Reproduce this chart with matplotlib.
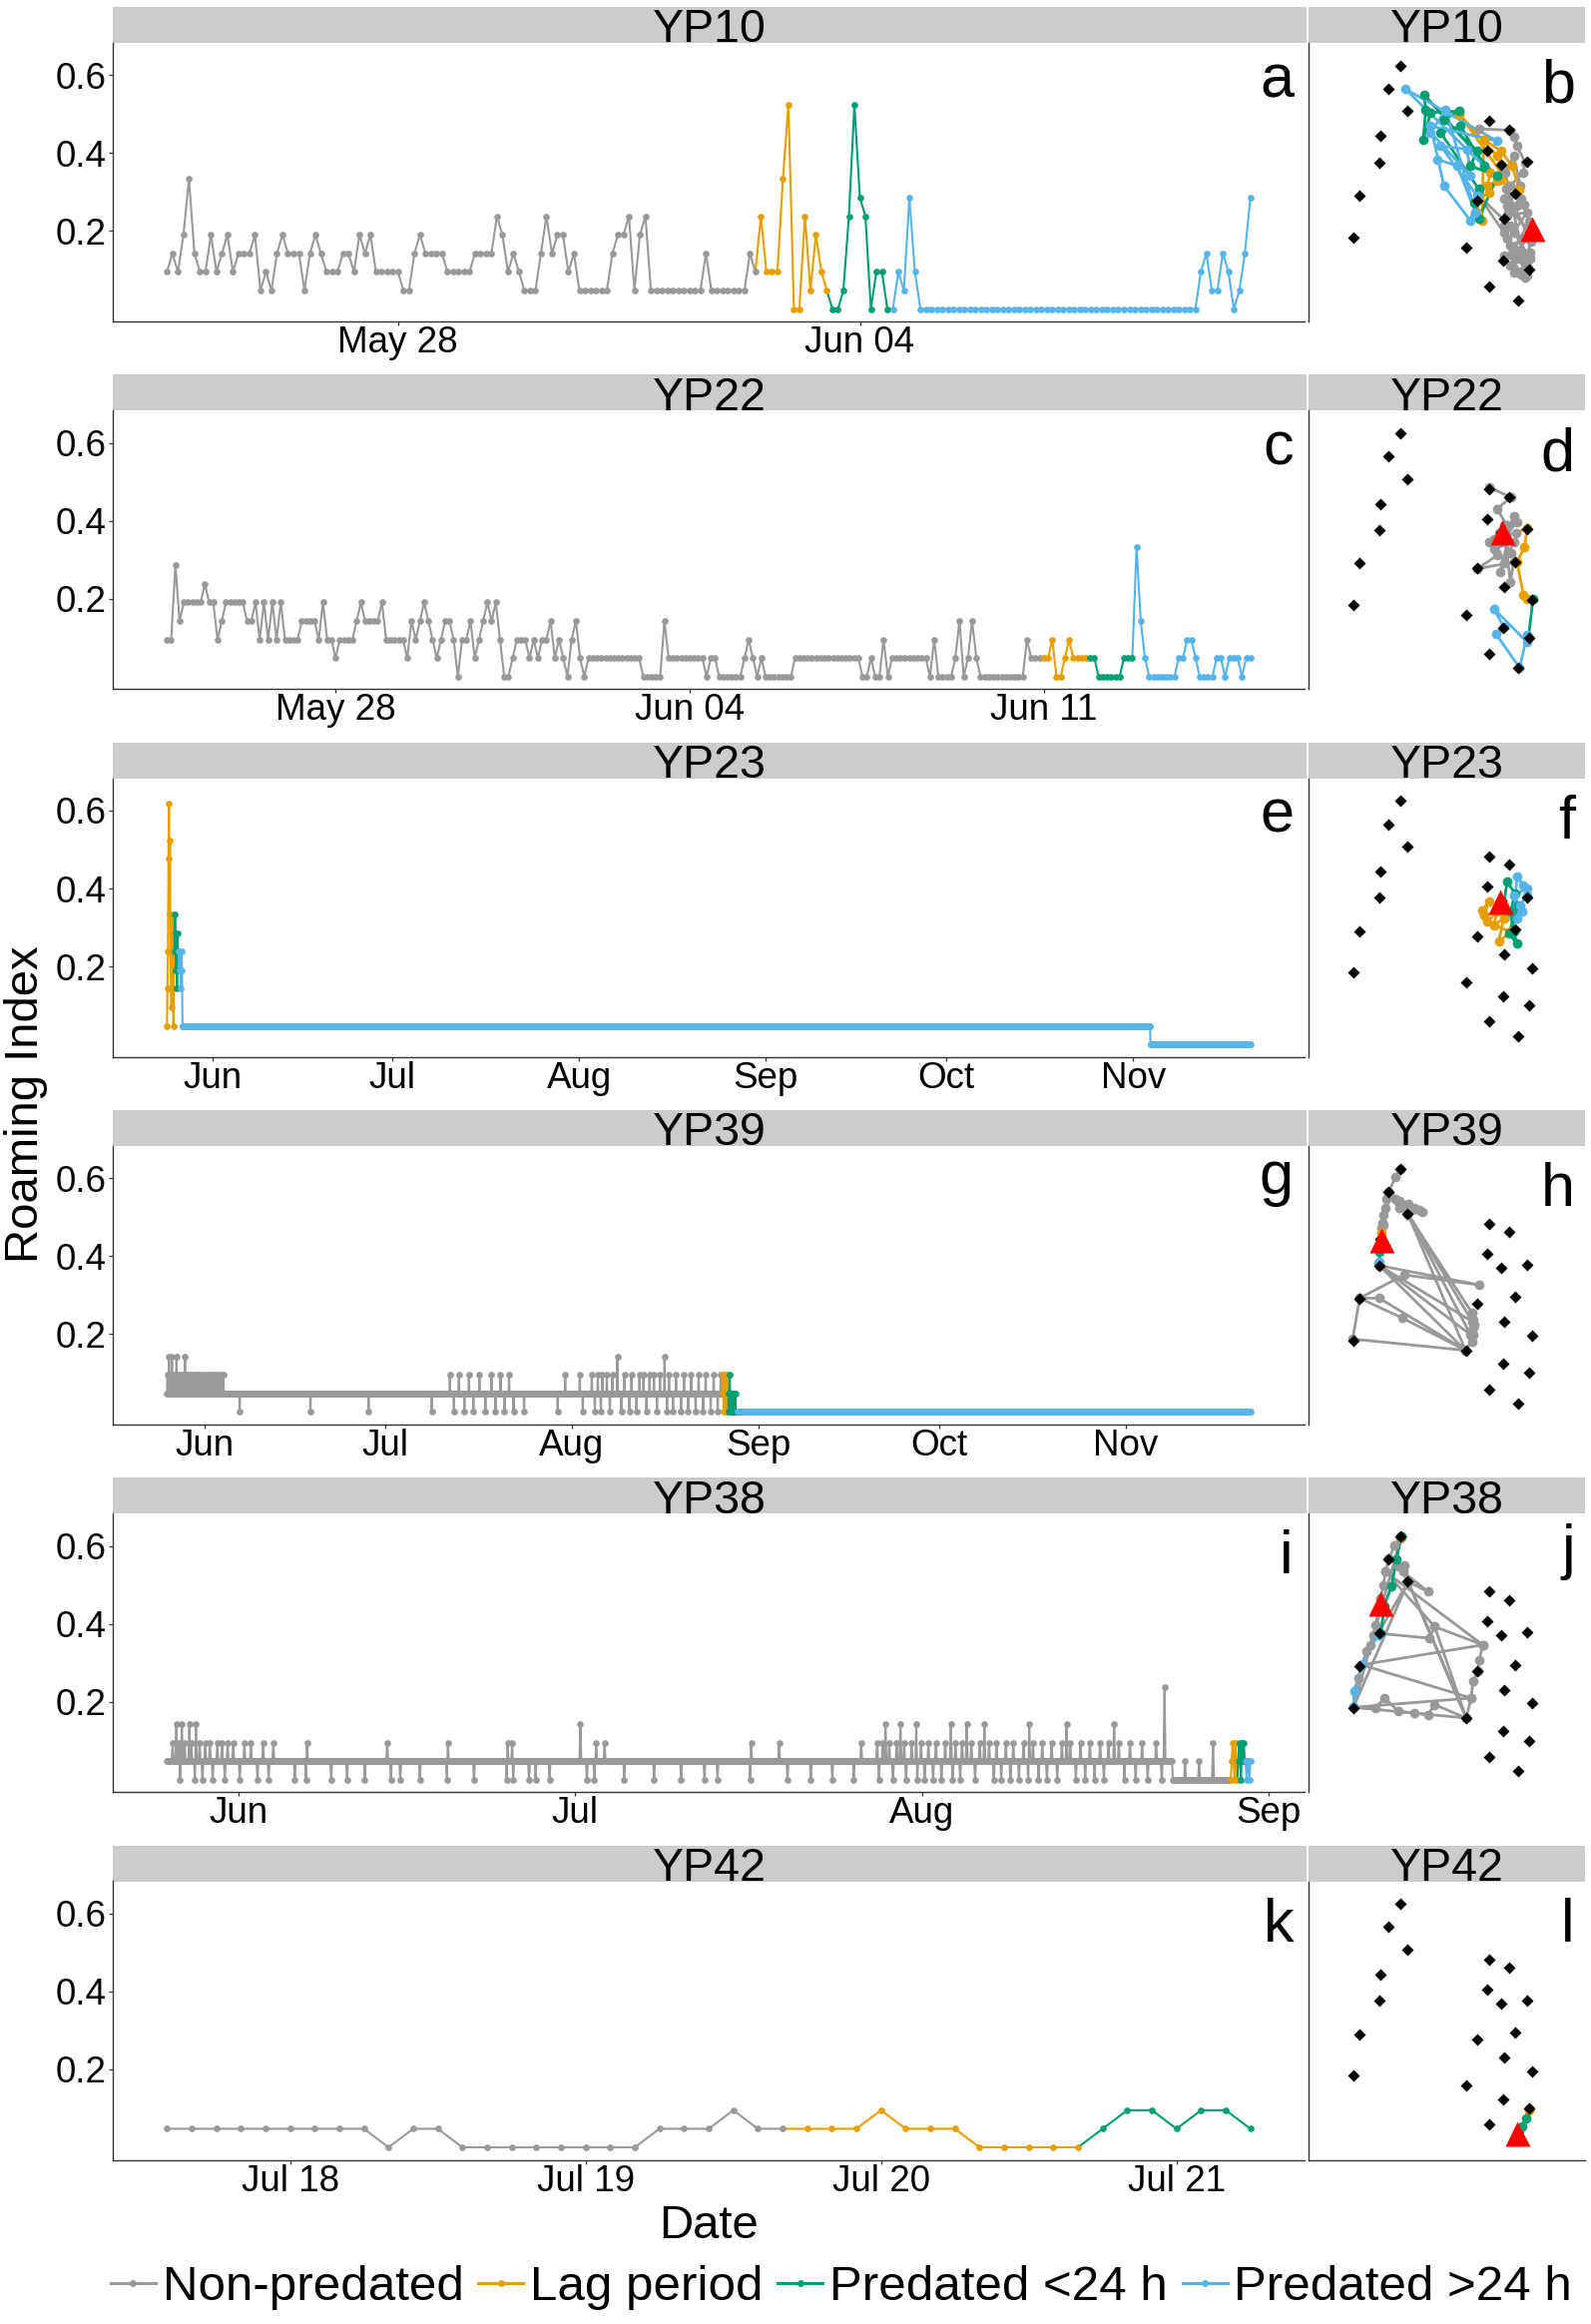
import numpy as np
import matplotlib
matplotlib.use("Agg")
import matplotlib.pyplot as plt
import matplotlib.dates as mdates
from matplotlib.lines import Line2D
from matplotlib.textpath import TextPath
from matplotlib.font_manager import FontProperties

plt.rcParams["font.family"] = ["Liberation Sans", "DejaVu Sans"]

# ---------------------------------------------------------------- data
N_RECEIVERS = 21          # roaming index = receivers visited / 21
STEP_HOURS = 2            # sampling interval of the roaming index

categories = ["Non-predated", "Lag period", "Predated <24 h", "Predated >24 h"]
cat_colors = ["#999999", "#E69F00", "#009E73", "#56B4E9"]
fish_ids = ["YP10", "YP22", "YP23", "YP39", "YP38", "YP42"]
letters_ts = ["a", "c", "e", "g", "i", "k"]
letters_map = ["b", "d", "f", "h", "j", "l"]

# --- YP10 (receiver counts per 2 h step; int = one step, (k, n) = n steps)
yp10_start = "2017-05-24T12:00"
yp10_non = [2, 3, 2, 4, 7, 3, 2, 2, 4, 2, 3, 4, 2, 3, 3, 3, 4, 1, 2, 1,
            3, 4, 3, 3, 3, 1, 3, 4, 3, 2, 2, 2, 3, 3, 2, 4, 3, 4, 2, 2,
            2, 2, 2, 1, 1, 3, 4, 3, 3, 3, 3, 2, 2, 2, 2, 2, 3, 3, 3, 3,
            5, 4, 2, 3, 2, 1, 1, 1, 3, 5, 3, 4, 4, 2, 3, 1, 1, 1, 1, 1,
            1, 3, 4, 4, 5, 1, 4, 5, 1, 1, 1, 1, 1, 1, 1, 1, 1, 1, 3, 1,
            1, 1, 1, 1, 1, 1, 3, 2]
yp10_lag = [5, 2, 2, 2, 7, 11, 0, 0, 5, 1, 4, 2, 1]
yp10_lt24 = [0, 0, 1, 5, 11, 6, 5, 0, 2, 2, 0]
yp10_gt24 = [0, 2, 1, 6, 2, (0, 51), 2, 3, 1, 1, 3, 2, 0, 1, 3, 6]

# --- YP22
yp22_start = "2017-05-24T16:00"
yp22_non = [(2, 2), 6, 3, (4, 5), 5, (4, 2), 2, 3, (4, 5), (3, 2), 4, 2, 4, 2, 4, 2, 4,
            (2, 4), (3, 4), 2, 4, (2, 2), 1, (2, 4), 3, 4, (3, 4), 4, (2, 5), 1, 3, 2, 3,
            4, 3, 2, 1, 2, (3, 2), 2, 0, (2, 2), 3, 1, 2, 3, 4, 3, 4, 2, (0, 2), 1,
            (2, 3), 1, 2, 1, (2, 2), 3, 1, 2, 1, 0, 2, 3, 1, 0, (1, 13), (0, 5), 3,
            (1, 9), 0, (1, 2), (0, 6), 1, 2, 1, 0, 1, (0, 7), (1, 16), (0, 2), 1,
            (0, 2), 2, 0, (1, 9), 0, 2, (0, 4), 1, 3, 0, 1, 3, 1, (0, 11), 2, (1, 3)]
yp22_lag = [1, 1, 2, 0, 0, 1, 2, 1, 1, 1, 1]
yp22_lt24 = [1, 1, 0, 0, 0, 0, 0, 0, 1, 1, 1]
yp22_gt24 = [7, 3, 1, (0, 7), 1, 1, 2, 2, 1, (0, 4), 1, 1, 0, 1, 1, 1, 0, 1, 1]

# --- YP23
yp23_start = "2017-05-24T12:00"
yp23_non = []
yp23_lag = [1, 3, 5, 10, 13, 7, 11, 5, 3, 2, 5, 7, 3, 1, 5]
yp23_lt24 = [5, 7, 6, 4, 5, 3, 6, 5, 4]
yp23_gt24 = [5, 4, 5, 3, 4, 5, 4, (1, 1930), (0, 200)]

# --- YP39 (baseline runs plus short excursions: day since start, count)
yp39_start = "2017-05-25T18:00"
yp39_non_base = [(1, 1107)]
yp39_ev_day = [0.1, 0.3, 0.5, 0.8, 1.1, 1.4, 1.6, 2.0, 2.3, 2.7, 3.0, 3.3, 3.7, 4.0,
               4.4, 4.8, 5.1, 5.5, 5.9, 6.2, 6.6, 7.0, 7.4, 7.7, 8.1, 8.5, 8.9, 9.3,
               12.05, 23.86, 33.46, 44.03,
               47.0, 47.7, 48.5, 49.4, 50.2, 50.9, 51.9, 52.9, 53.9, 54.6, 55.4, 56.1,
               56.8, 57.6, 59.3, 64.9, 66.2, 68.6, 69.1,
               70.6, 71.1, 71.6, 72.1, 72.3, 73.1, 73.6, 74.0, 74.8, 75.5, 76.0, 76.8,
               77.2, 78.0, 78.5, 79.2, 79.7, 80.2, 80.9, 81.4, 81.9, 82.7, 83.1, 83.4,
               84.1, 84.6, 85.4, 85.9, 86.6, 87.1, 87.8, 88.3, 89.1, 89.5, 90.3, 90.8,
               91.5, 92.0]
yp39_ev_k = [2, 3, 2, 3, 2, 2, 3, 2, 2, 2, 3, 2, 2, 2,
             2, 2, 2, 2, 2, 2, 2, 2, 2, 2, 2, 2, 2, 2,
             0, 0, 0, 0,
             2, 0, 2, 0, 2, 0, 2, 0, 2, 0, 2, 0,
             2, 0, 0, 0, 2, 2, 0,
             2, 0, 2, 0, 2, 2, 0, 2, 3, 0, 2, 0,
             2, 0, 2, 2, 0, 2, 2, 0, 2, 3, 0, 2,
             0, 2, 0, 2, 0, 2, 0, 2, 0, 2, 0, 2,
             0, 2]
yp39_lag = [1, 2, 1, 0, 1, 2, 0, 1, 1, 0, 2, 1]
yp39_lt24 = [1, 0, 1, 2, 1, 0, 0, 1, 0, 0, 1, 0, 0, 0, 1, 0, 0, 0]
yp39_gt24 = [(0, 1024)]

# --- YP38
yp38_start = "2017-05-25T14:00"
yp38_non_base = [(1, 1078), (0, 62)]
yp38_ev_day = [0.8, 1.3, 2.0, 2.6,
               0.5, 1.1, 1.6, 2.2, 2.9, 3.4, 3.8, 4.5, 4.9, 5.4, 5.9, 6.9, 7.5, 8.6, 9.5,
               1.2, 2.5, 3.2, 4.1, 5.2, 6.5, 8.1, 9.1,
               11.4, 12.4, 14.7, 16.1, 17.7, 20.0, 20.8, 22.6, 25.0, 27.4, 30.3, 30.9,
               32.3, 32.9, 34.2, 37.5, 38.2, 40.8, 43.5, 45.9, 48.0, 49.2, 52.1, 55.4,
               57.5, 59.4, 61.3,
               12.5, 19.7, 25.1, 30.4, 30.8, 38.3, 39.1, 52.2, 54.7, 62.0, 36.9,
               63.4, 63.9, 64.5, 65.2, 65.8, 66.5, 67.3, 68.0, 68.7, 69.5, 70.4, 71.0,
               71.8, 72.6, 73.4, 74.1, 74.9, 75.6, 76.5, 77.3, 78.2, 79.0, 79.9, 80.7,
               81.6, 82.4, 83.3, 84.1, 85.0, 86.0, 87.1, 88.3,
               64.2, 65.5, 66.9, 70.0, 71.4, 73.0, 77.0, 80.3, 84.6,
               63.6, 64.8, 66.0, 67.0, 67.7, 68.4, 69.2, 70.2, 70.8, 72.2, 73.8, 74.5,
               75.3, 76.1, 76.9, 77.8, 78.6, 79.5, 81.2, 82.0, 82.8, 83.7, 85.5, 86.5,
               87.6, 88.8,
               89.1, 90.9, 92.2, 93.4]
yp38_ev_k = ([3] * 4 + [2] * 15 + [0] * 8 + [0] * 27 + [2] * 10 + [3]
             + [2] * 32 + [3] * 9 + [0] * 26 + [5, 1, 1, 2])
yp38_lag = [0, 1, 2, 1, 0, 2, 1, 0]
yp38_lt24 = [1, 2, 1, 0, 2, 1, 2, 1]
yp38_gt24 = [1, 0, 1, 1, 0, 1]

# --- YP42
yp42_start = "2017-07-17T14:00"
yp42_non = [1, 1, 1, 1, 1, 1, 1, 1, 1, 0, 1, 1, 0, 0, 0, 0, 0, 0, 0, 0, 1, 1, 1, 2, 1, 1]
yp42_lag = [1, 1, 1, 2, 1, 1, 1, 0, 0, 0, 0, 0]
yp42_lt24 = [1, 2, 2, 1, 2, 2, 1]
yp42_gt24 = []

# x-axis ticks per fish
yp10_ticks = ["2017-05-28", "2017-06-04"]
yp22_ticks = ["2017-05-28", "2017-06-04", "2017-06-11"]
yp23_ticks = ["2017-06-01", "2017-07-01", "2017-08-01", "2017-09-01", "2017-10-01", "2017-11-01"]
yp39_ticks = yp23_ticks
yp38_ticks = ["2017-06-01", "2017-07-01", "2017-08-01", "2017-09-01"]
yp42_ticks = ["2017-07-18", "2017-07-19", "2017-07-20", "2017-07-21"]
tick_formats = ["%b %d", "%b %d", "%b", "%b", "%b", "%b %d"]
y_ticks = [0.2, 0.4, 0.6]
y_tick_labels = ["0.2", "0.4", "0.6"]

# --- receiver array (map units) and tracks
rec_x = [278, 241, 299, 216, 213, 154, 135, 545, 604, 538, 580, 658, 623, 508, 590, 674, 474, 585, 665, 544, 633]
rec_y = [770, 700, 633, 558, 478, 378, 253, 603, 578, 513, 471, 480, 383, 363, 308, 267, 223, 183, 155, 106, 63]

yp10_tri = (673, 278)
yp10_map_non = [(513, 580), (608, 575), (618, 556), (628, 528), (653, 478), (646, 448), (608, 408),
                (588, 368), (628, 348), (598, 318), (658, 328), (618, 268), (588, 288), (648, 248),
                (608, 228), (668, 208), (628, 188), (588, 198), (658, 168), (618, 148), (653, 133),
                (608, 168), (668, 268), (598, 348), (638, 408), (618, 498), (593, 448), (658, 138),
                (628, 208), (598, 248), (668, 188), (608, 288), (513, 378), (588, 268), (600, 330),
                (640, 370), (665, 300), (610, 200), (640, 140), (670, 240), (595, 400), (650, 350)]
yp10_map_lag = [(455, 623), (568, 498), (580, 473), (576, 428), (548, 448), (538, 408), (568, 423),
                (636, 396), (613, 468), (580, 513), (528, 548), (523, 303), (508, 328), (513, 368),
                (543, 388), (573, 428)]
yp10_map_lt24 = [(348, 683), (353, 638), (346, 548), (368, 628), (455, 633), (408, 608), (508, 513),
                 (488, 468), (568, 438), (513, 308), (498, 358), (513, 398), (398, 568), (458, 588),
                 (528, 468)]
yp10_map_gt24 = [(291, 700), (568, 543), (368, 588), (408, 408), (488, 303), (508, 378), (398, 528),
                 (478, 518), (488, 438), (368, 568), (413, 638), (503, 328), (448, 468), (388, 488)]

yp22_tri = (582, 472)
yp22_map_non = [(545, 607), (610, 577), (568, 542), (598, 492), (543, 442), (568, 402), (508, 362),
                (618, 382), (608, 322), (588, 492), (628, 502), (558, 422), (618, 442), (578, 352),
                (618, 522), (598, 452), (575, 470), (610, 410), (590, 380), (560, 450), (625, 470)]
yp22_map_lag = [(658, 484), (651, 427), (628, 382), (648, 282), (658, 272)]
yp22_map_lt24 = [(676, 270), (663, 157)]
yp22_map_gt24 = [(658, 142), (558, 242), (588, 187), (564, 167), (636, 64), (658, 162)]

yp23_tri = (576, 468)
yp23_map_non = []
yp23_map_lag = [(523, 441), (543, 466), (528, 426), (568, 436), (558, 396), (588, 416), (573, 346),
                (608, 376), (538, 406), (588, 456)]
yp23_map_lt24 = [(598, 526), (623, 491), (608, 436), (618, 376), (628, 341), (603, 371), (633, 456),
                 (618, 416)]
yp23_map_gt24 = [(628, 541), (648, 516), (658, 486), (638, 456), (628, 416), (643, 436), (618, 486),
                 (658, 506)]

yp39_tri = (219, 555)
yp39_map_non = [(278, 770), (263, 745), (241, 700), (236, 680), (231, 650), (226, 630), (223, 605),
                (221, 590), (241, 700), (263, 680), (275, 672), (293, 660), (300, 662), (320, 650),
                (333, 645), (343, 638), (299, 634), (473, 223), (493, 250), (495, 270), (497, 290),
                (498, 300), (496, 315), (493, 335), (299, 634), (488, 270), (213, 478), (513, 420),
                (288, 450), (154, 380), (213, 380), (473, 223), (133, 257), (154, 380), (283, 320),
                (473, 223), (213, 478), (493, 310), (299, 634), (273, 650), (243, 690), (226, 600)]
yp39_map_lag = [(221, 575)]
yp39_map_lt24 = [(219, 550), (214, 520), (213, 480)]
yp39_map_gt24 = [(212, 485), (214, 490)]

yp38_tri = (216, 568)
yp38_map_non = [(280, 771), (260, 743), (242, 703), (232, 663), (225, 623), (218, 583), (210, 543),
                (202, 503), (195, 473), (185, 443), (175, 423), (160, 383), (150, 343), (140, 303),
                (135, 255), (475, 223), (490, 283), (495, 333), (510, 363), (515, 398), (525, 443),
                (380, 498), (365, 463), (210, 478), (300, 633), (270, 678), (290, 683), (285, 663),
                (360, 603), (300, 633), (475, 223), (380, 263), (360, 233), (320, 238), (270, 243),
                (230, 283), (200, 253), (135, 255), (490, 283), (160, 383), (525, 443), (232, 663),
                (380, 498), (475, 223), (300, 633), (135, 255), (278, 765)]
yp38_map_lag = [(280, 771), (279, 768)]
yp38_map_lt24 = [(280, 771), (265, 700), (250, 620), (228, 560), (218, 478)]
yp38_map_gt24 = [(210, 473), (160, 383), (138, 303), (135, 255)]

yp42_tri = (629, 80)
yp42_map_non = [(631, 78), (632, 70)]
yp42_map_lag = [(664, 155), (666, 150)]
yp42_map_lt24 = [(655, 125), (645, 100), (635, 85)]
yp42_map_gt24 = []

# ---------------------------------------------------------------- helpers
def expand(runs):
    out = []
    for r in runs:
        if isinstance(r, tuple):
            out.extend([r[0]] * r[1])
        else:
            out.append(r)
    return out


def with_events(runs, ev_day, ev_k):
    v = expand(runs)
    for d, k in zip(ev_day, ev_k):
        v[int(round(d * 24 / STEP_HOURS))] = k
    return v


series = {
    "YP10": (yp10_start, [expand(yp10_non), expand(yp10_lag), expand(yp10_lt24), expand(yp10_gt24)]),
    "YP22": (yp22_start, [expand(yp22_non), expand(yp22_lag), expand(yp22_lt24), expand(yp22_gt24)]),
    "YP23": (yp23_start, [expand(yp23_non), expand(yp23_lag), expand(yp23_lt24), expand(yp23_gt24)]),
    "YP39": (yp39_start, [with_events(yp39_non_base, yp39_ev_day, yp39_ev_k), expand(yp39_lag),
                          expand(yp39_lt24), expand(yp39_gt24)]),
    "YP38": (yp38_start, [with_events(yp38_non_base, yp38_ev_day, yp38_ev_k), expand(yp38_lag),
                          expand(yp38_lt24), expand(yp38_gt24)]),
    "YP42": (yp42_start, [expand(yp42_non), expand(yp42_lag), expand(yp42_lt24), expand(yp42_gt24)]),
}
ticks = {"YP10": yp10_ticks, "YP22": yp22_ticks, "YP23": yp23_ticks,
         "YP39": yp39_ticks, "YP38": yp38_ticks, "YP42": yp42_ticks}
maps = {
    "YP10": (yp10_tri, [yp10_map_non, yp10_map_lag, yp10_map_lt24, yp10_map_gt24]),
    "YP22": (yp22_tri, [yp22_map_non, yp22_map_lag, yp22_map_lt24, yp22_map_gt24]),
    "YP23": (yp23_tri, [yp23_map_non, yp23_map_lag, yp23_map_lt24, yp23_map_gt24]),
    "YP39": (yp39_tri, [yp39_map_non, yp39_map_lag, yp39_map_lt24, yp39_map_gt24]),
    "YP38": (yp38_tri, [yp38_map_non, yp38_map_lag, yp38_map_lt24, yp38_map_gt24]),
    "YP42": (yp42_tri, [yp42_map_non, yp42_map_lag, yp42_map_lt24, yp42_map_gt24]),
}

# ---------------------------------------------------------------- layout
W, H, DPI = 1594, 2328, 100
ROW0, ROW_STEP, STRIP_H, AX_H = 7.0, 368.3, 36.0, 279.0
LX0, LX1 = 113, 1307
RX0, RX1 = 1311, 1588
SPINE_C = "#333333"

fig = plt.figure(figsize=(W / DPI, H / DPI), dpi=DPI)


def place_letter(letter, right_px, center_px, size):
    fp = FontProperties(family="Liberation Sans", size=size)
    bb = TextPath((0, 0), letter, prop=fp).get_extents()
    mid = (bb.y0 + bb.y1) / 2 * DPI / 72.0
    base = center_px + mid
    fig.text(right_px / W, 1 - base / H, letter, ha="right", va="baseline", fontsize=size)


def draw_ts(ax, start, cat_vals):
    vals, cats = [], []
    for ci, v in enumerate(cat_vals):
        vals += list(v)
        cats += [ci] * len(v)
    vals = np.array(vals, dtype=float) / N_RECEIVERS
    cats = np.array(cats)
    x = mdates.date2num(np.datetime64(start)) + np.arange(len(vals)) * STEP_HOURS / 24.0
    for ci in range(4):
        idx = np.where(cats == ci)[0]
        if len(idx) == 0:
            continue
        j0 = max(idx[0] - 1, 0)
        ax.plot(x[j0:idx[-1] + 1], vals[j0:idx[-1] + 1], color=cat_colors[ci], lw=1.5,
                solid_joinstyle="round", zorder=2)
    for ci in range(4):
        idx = np.where(cats == ci)[0]
        if len(idx) == 0:
            continue
        ax.plot(x[idx], vals[idx], ls="none", marker="o", ms=4.8, color=cat_colors[ci],
                mec="none", zorder=3)
    return x[0], x[-1]


def draw_map(ax, tri, paths):
    prev = None
    for ci, pts in enumerate(paths):
        if not pts:
            continue
        xs = [p[0] for p in pts]
        ys = [p[1] for p in pts]
        lx = ([prev[0]] if prev else []) + xs
        ly = ([prev[1]] if prev else []) + ys
        ax.plot(lx, ly, color=cat_colors[ci], lw=2.0, zorder=2)
        ax.plot(xs, ys, ls="none", marker="o", ms=7, color=cat_colors[ci], mec="none", zorder=3)
        prev = pts[-1]
    ax.plot(rec_x, rec_y, ls="none", marker="D", ms=6, color="black", mec="none", zorder=4)
    ax.plot([tri[0]], [tri[1]], ls="none", marker="^", ms=18, color="red", mec="none", zorder=5)


for r, fid in enumerate(fish_ids):
    strip_top = ROW0 + r * ROW_STEP
    ax_top = strip_top + STRIP_H
    ax_bot = ax_top + AX_H

    # strips
    for (x0, x1) in [(LX0, LX1 + 2), (RX0, RX1)]:
        sax = fig.add_axes([x0 / W, 1 - ax_top / H, (x1 - x0) / W, STRIP_H / H])
        sax.set_facecolor("#CCCCCC")
        sax.set_xticks([])
        sax.set_yticks([])
        for s in sax.spines.values():
            s.set_visible(False)
        fig.text((x0 + x1) / 2 / W, 1 - (ax_top - 0.5) / H, fid, ha="center", va="baseline",
                 fontsize=33.5)

    # time series
    ax = fig.add_axes([LX0 / W, 1 - ax_bot / H, (LX1 - LX0) / W, AX_H / H])
    start, cat_vals = series[fid]
    t0, t1 = draw_ts(ax, start, cat_vals)
    rng = t1 - t0
    ax.set_xlim(t0 - 0.05 * rng, t1 + 0.05 * rng)
    ax.set_ylim(-0.032, 0.683)
    ax.set_yticks(y_ticks)
    ax.set_yticklabels(y_tick_labels)
    ax.set_xticks(mdates.date2num(np.array(ticks[fid], dtype="datetime64[D]")))
    ax.xaxis.set_major_formatter(mdates.DateFormatter(tick_formats[r]))
    ax.tick_params(axis="both", labelsize=26.5, colors=SPINE_C, labelcolor="black",
                   length=2.9, width=0.9)
    ax.tick_params(axis="x", pad=0)
    ax.tick_params(axis="y", pad=2)
    for s in ["top", "right"]:
        ax.spines[s].set_visible(False)
    for s in ["left", "bottom"]:
        ax.spines[s].set_color(SPINE_C)
        ax.spines[s].set_linewidth(1.0)
    place_letter(letters_ts[r], LX1 - 11, ax_top + 38, 44)

    # map
    mx = fig.add_axes([RX0 / W, 1 - ax_bot / H, (RX1 - RX0) / W, AX_H / H])
    tri, paths = maps[fid]
    draw_map(mx, tri, paths)
    mx.set_xlim(0, 833)
    mx.set_ylim(0, 838)
    mx.set_xticks([])
    mx.set_yticks([])
    mx.spines["top"].set_visible(False)
    mx.spines["right"].set_visible(False)
    mx.spines["left"].set_color(SPINE_C)
    mx.spines["left"].set_linewidth(1.0)
    if r == len(fish_ids) - 1:
        mx.spines["bottom"].set_color(SPINE_C)
        mx.spines["bottom"].set_linewidth(1.0)
    else:
        mx.spines["bottom"].set_visible(False)
    place_letter(letters_map[r], RX1 - 10, ax_top + 38, 44)

# axis titles
fig.text(26 / W, 1 - 1106 / H, "Roaming Index", rotation=90, ha="center", va="center", fontsize=34)
fig.text((LX0 + LX1) / 2 / W, 1 - 2242 / H, "Date", ha="center", va="baseline", fontsize=34)

# legend
handles = [Line2D([], [], color=c, lw=2.2, marker="o", ms=5, mec="none") for c in cat_colors]
fig.legend(handles, categories, loc="center", bbox_to_anchor=(843 / W, 1 - 2292 / H), ncol=4,
           frameon=False, fontsize=35.5, handlelength=0.91, handletextpad=0.14,
           columnspacing=0.3, borderpad=0, borderaxespad=0)

fig.savefig("out.png", dpi=DPI)
